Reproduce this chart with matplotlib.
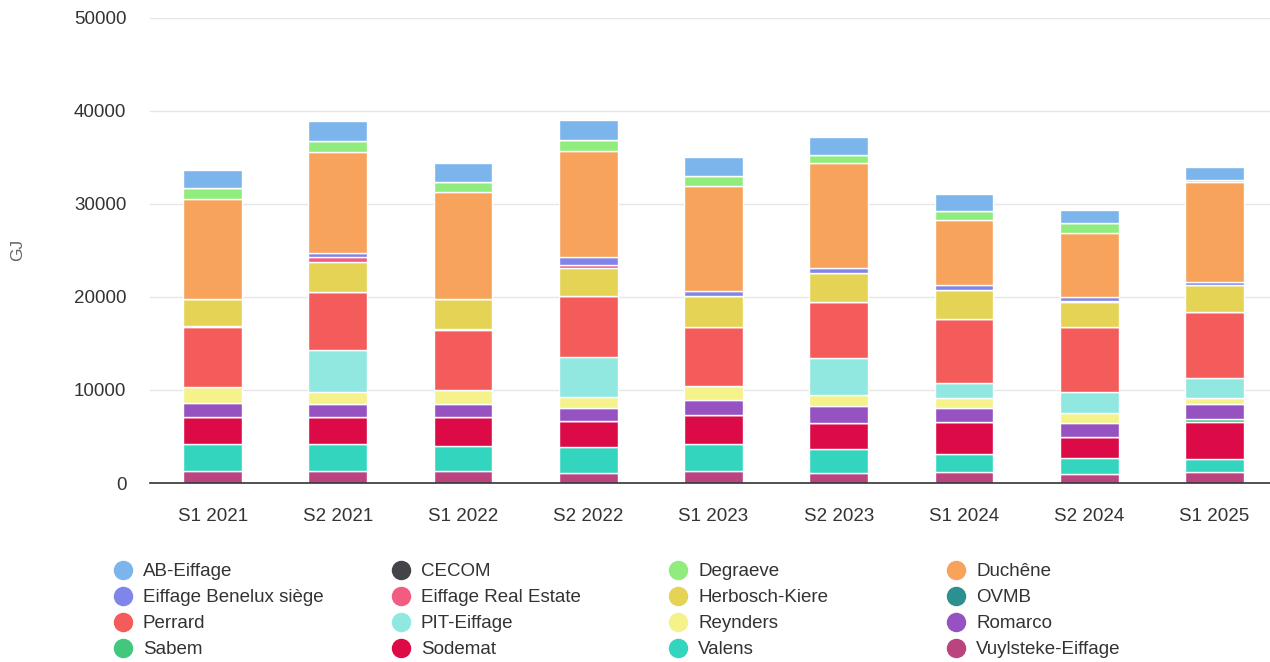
import matplotlib
matplotlib.use('Agg')
import matplotlib.pyplot as plt
from matplotlib.lines import Line2D

plt.rcParams['font.family'] = ['Liberation Sans', 'DejaVu Sans']

# Périodes
periods = ['S1 2021', 'S2 2021', 'S1 2022', 'S2 2022', 'S1 2023',
           'S2 2023', 'S1 2024', 'S2 2024', 'S1 2025']

# Valeurs (GJ) par entité
ab_eiffage  = [1970, 2150, 1970, 2150, 2050, 1900, 1800, 1430, 1460]
cecom       = [0, 0, 0, 0, 0, 0, 0, 0, 0]
degraeve    = [1120, 1180, 1150, 1180, 1110, 890, 960, 1010, 150]
duchene     = [10790, 10820, 11500, 11440, 11290, 11290, 6990, 6940, 10820]
benelux     = [0, 470, 0, 820, 540, 470, 540, 390, 290]
real_estate = [0, 540, 0, 360, 0, 0, 0, 150, 0]
herbosch    = [2860, 3150, 3150, 2980, 3290, 3190, 3150, 2660, 2870]
ovmb        = [150, 0, 150, 0, 0, 0, 0, 0, 0]
perrard     = [6450, 6270, 6490, 6520, 6380, 5950, 6810, 6950, 7160]
pit_eiffage = [0, 4520, 0, 4300, 0, 4010, 1690, 2330, 2160]
reynders    = [1720, 1320, 1500, 1180, 1510, 1150, 1000, 1000, 640]
romarco     = [1470, 1330, 1330, 1430, 1610, 1820, 1510, 1510, 1550]
sabem       = [0, 0, 0, 0, 0, 0, 0, 0, 390]
sodemat     = [2970, 2970, 3150, 2770, 3150, 2830, 3470, 2330, 3910]
valens      = [2860, 2860, 2690, 2790, 2870, 2550, 1970, 1680, 1460]
vuylsteke   = [1300, 1300, 1290, 1110, 1290, 1110, 1150, 970, 1150]

# ordre de la légende (le premier est en haut de la pile)
series = [
    ('AB-Eiffage', ab_eiffage, '#7cb5ec'),
    ('CECOM', cecom, '#434348'),
    ('Degraeve', degraeve, '#90ed7d'),
    ('Duchêne', duchene, '#f7a35c'),
    ('Eiffage Benelux siège', benelux, '#8085e9'),
    ('Eiffage Real Estate', real_estate, '#f15c80'),
    ('Herbosch-Kiere', herbosch, '#e4d354'),
    ('OVMB', ovmb, '#2b908f'),
    ('Perrard', perrard, '#f45b5b'),
    ('PIT-Eiffage', pit_eiffage, '#91e8e1'),
    ('Reynders', reynders, '#f5f28c'),
    ('Romarco', romarco, '#9652c0'),
    ('Sabem', sabem, '#42c77d'),
    ('Sodemat', sodemat, '#dc0b47'),
    ('Valens', valens, '#34d5bf'),
    ('Vuylsteke-Eiffage', vuylsteke, '#bb4480'),
]

fig = plt.figure(figsize=(12.7, 6.62), dpi=100)
ax = fig.add_axes([150 / 1270, 1 - 483 / 662, 1127 / 1270, 465 / 662])

x = list(range(len(periods)))
bottom = [0] * len(periods)
for name, vals, color in reversed(series):
    ax.bar(x, vals, width=0.47, bottom=bottom, color=color,
           edgecolor='white', linewidth=1.0, zorder=3)
    bottom = [b + v for b, v in zip(bottom, vals)]

ax.set_xlim(-0.5, len(periods) - 0.5)
ax.set_ylim(0, 50000)
ax.set_yticks([0, 10000, 20000, 30000, 40000, 50000])
ax.set_xticks(x)
ax.set_xticklabels(periods)
ax.yaxis.grid(True, color='#e6e6e6', linewidth=1, zorder=0)
ax.tick_params(axis='y', length=0, pad=17, labelsize=13.5, labelcolor='#333333')
ax.tick_params(axis='x', length=0, pad=18, labelsize=13.5, labelcolor='#333333')
for s in ['top', 'right', 'left']:
    ax.spines[s].set_visible(False)
ax.spines['bottom'].set_color('#333333')
ax.spines['bottom'].set_linewidth(1.2)
ax.spines['bottom'].set_zorder(4)

fig.text(18 / 1270, 1 - 250 / 662, 'GJ', rotation=90, ha='center', va='center',
         fontsize=12.5, color='#666666')

# légende manuelle en 4 colonnes
col_x = [123, 401, 678, 956]
row_y = [570, 596, 622, 648]
for i, (name, vals, color) in enumerate(series):
    r, c = divmod(i, 4)
    fx = col_x[c] / 1270
    fy = 1 - row_y[r] / 662
    fig.add_artist(Line2D([fx], [fy], marker='o', markersize=13, color=color,
                          linestyle='none', transform=fig.transFigure))
    fig.text(fx + 20 / 1270, fy, name, ha='left', va='center_baseline',
             fontsize=13.5, color='#333333')

fig.savefig('out.png', dpi=100)
